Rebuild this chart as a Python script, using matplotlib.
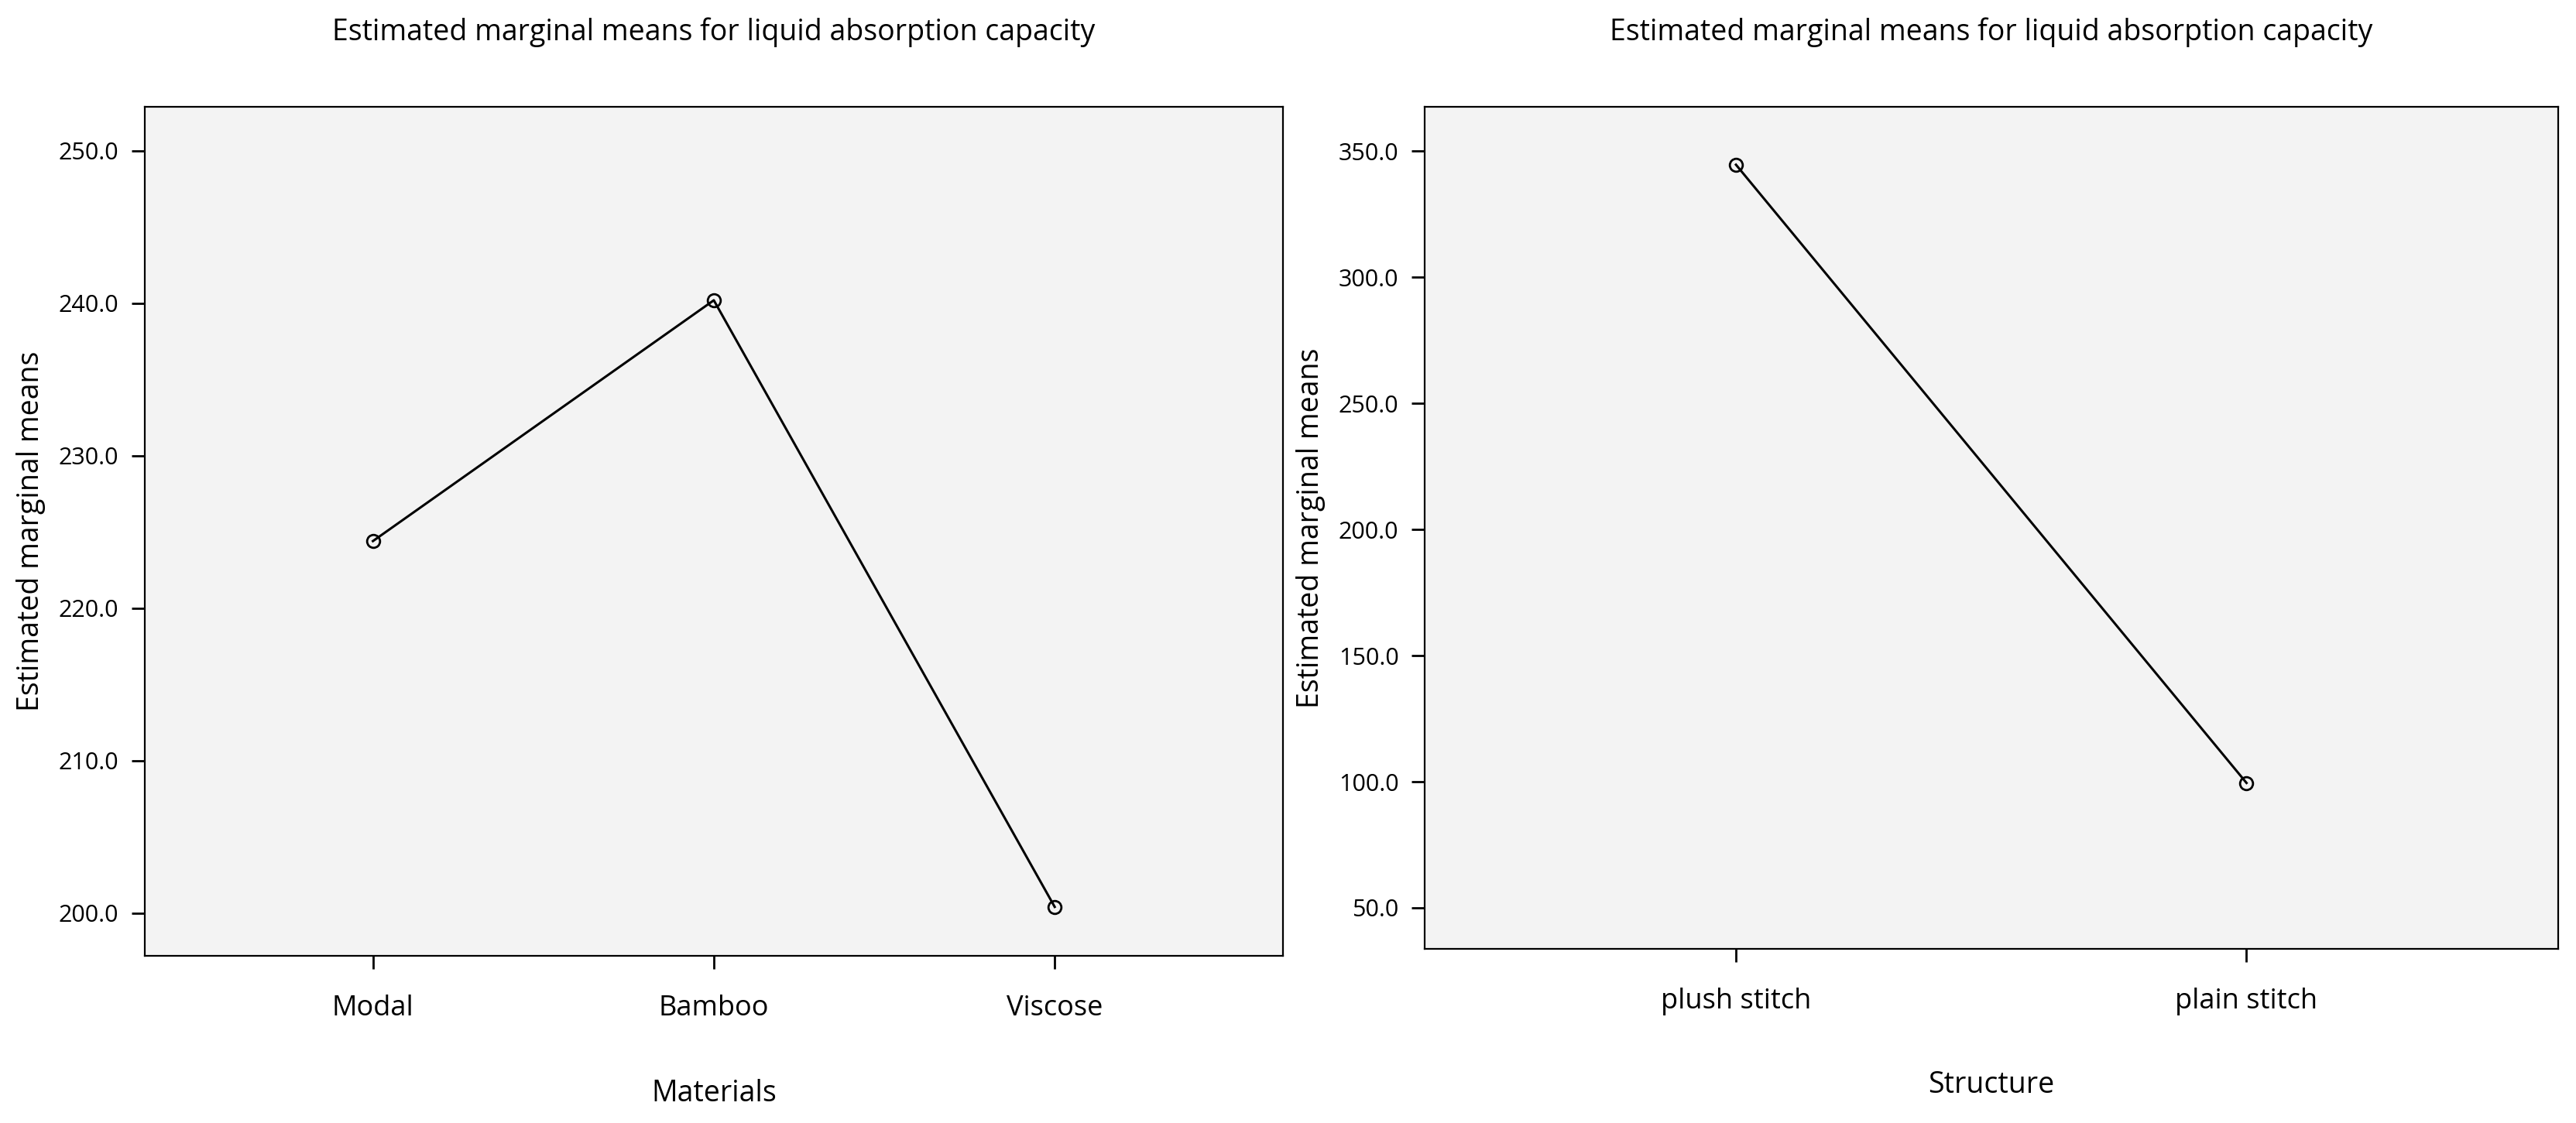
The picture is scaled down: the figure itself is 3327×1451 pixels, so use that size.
import matplotlib
matplotlib.use("Agg")
import matplotlib.pyplot as plt

plt.rcParams['font.family'] = ['Open Sans', 'DejaVu Sans']

materials = ['Modal', 'Bamboo', 'Viscose']
material_means = [224.4, 240.2, 200.4]
structures = ['plush stitch', 'plain stitch']
structure_means = [344.6, 99.5]
title = 'Estimated marginal means for liquid absorption capacity'

fig = plt.figure(figsize=(33.27, 14.51), dpi=100)
ax1 = fig.add_axes([0.0561, 0.149, 0.442, 0.756])
ax2 = fig.add_axes([0.553, 0.155, 0.440, 0.750])

def style(ax, cats, vals, yticks, ylim, xpad, xlabel, xlabel_y):
    ax.set_facecolor('#f3f3f3')
    x = range(len(cats))
    ax.plot(x, vals, color='black', lw=2.2, marker='o', ms=12,
            mfc='none', mec='black', mew=2)
    ax.set_xlim(-xpad, len(cats) - 1 + xpad)
    ax.set_ylim(*ylim)
    ax.set_xticks(list(x))
    ax.set_xticklabels(cats, fontsize=26)
    ax.set_yticks(yticks)
    ax.set_yticklabels([f'{v:.1f}' for v in yticks], fontsize=22)
    ax.tick_params(axis='both', direction='out', length=12, width=2, pad=12)
    ax.tick_params(axis='x', pad=24)
    for s in ax.spines.values():
        s.set_linewidth(1.6)
    ax.set_ylabel('Estimated marginal means', fontsize=27, labelpad=12)
    bb = ax.get_position()
    fig.text(bb.x0 + bb.width / 2, 0.971, title, ha='center', va='center', fontsize=27)
    fig.text(bb.x0 + bb.width / 2, xlabel_y, xlabel, ha='center', va='center', fontsize=27)

style(ax1, materials, material_means, [200, 210, 220, 230, 240, 250],
      (197.2, 252.9), 0.67, 'Materials', 0.026)
style(ax2, structures, structure_means, [50, 100, 150, 200, 250, 300, 350],
      (33.7, 367.6), 0.61, 'Structure', 0.034)

fig.savefig('out.png', dpi=100)
